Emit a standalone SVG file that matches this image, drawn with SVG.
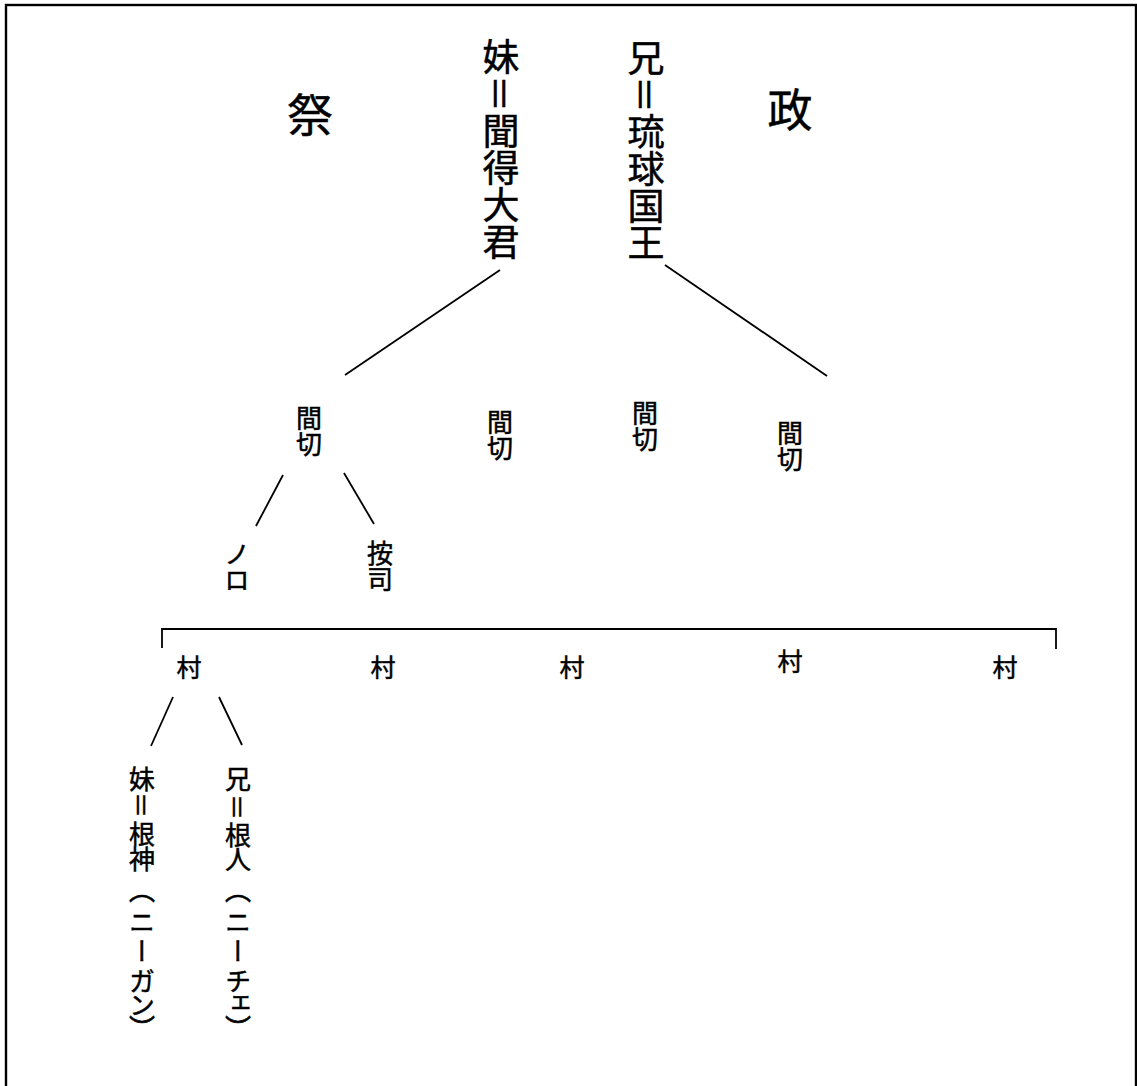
<svg xmlns="http://www.w3.org/2000/svg" width="1137" height="1086" viewBox="0 0 1137 1086">
<style>
text{font-family:"Noto Sans CJK JP","Noto Sans CJK SC",sans-serif;fill:#000;stroke:#000;stroke-width:0.5}
.v{writing-mode:vertical-rl}
.big{font-size:37px}
.head{font-size:45px;text-anchor:middle}
.s{font-size:26px}
.low{font-size:26px}
.h{font-size:25px;text-anchor:middle}
line,polyline{stroke:#000;stroke-width:1.8;fill:none}
</style>
<rect x="6" y="5" width="1130" height="1200" fill="#fff" stroke="#000" stroke-width="2.4"/>
<g id="matsuri"><text class="head" x="310" y="132">祭</text></g>
<g id="sei"><text class="head" x="790" y="127">政</text></g>
<g id="kikoe"><text class="v big" x="501" y="38">妹＝聞得大君</text></g>
<g id="king"><text class="v big" x="646" y="39">兄＝琉球国王</text></g>
<g id="magiri1"><text class="v s" x="309" y="405">間切</text></g>
<g id="magiri2"><text class="v s" x="500" y="409">間切</text></g>
<g id="magiri3"><text class="v s" x="645" y="400">間切</text></g>
<g id="magiri4"><text class="v s" x="790" y="420">間切</text></g>
<g id="noro"><text class="v s" x="237" y="541">ノロ</text></g>
<g id="aji"><text class="v s" x="380" y="540">按司</text></g>
<g id="mura1"><text class="h" x="189" y="677">村</text></g>
<g id="mura2"><text class="h" x="383" y="677">村</text></g>
<g id="mura3"><text class="h" x="572" y="677">村</text></g>
<g id="mura4"><text class="h" x="790" y="671">村</text></g>
<g id="mura5"><text class="h" x="1005" y="677">村</text></g>
<g id="niigan"><text class="v low" x="142" y="766 792 821 846 877 909 938 968 992 1015">妹＝根神（ニーガン）</text></g>
<g id="niiche"><text class="v low" x="238" y="766 794 822 846 877 909 938 968 990 1015">兄＝根人（ニーチェ）</text></g>
<g id="connectors">
<line x1="500" y1="270" x2="345" y2="375"/>
<line x1="665" y1="265" x2="827" y2="376"/>
<line x1="283" y1="475" x2="256" y2="526"/>
<line x1="344" y1="473" x2="374" y2="524"/>
<polyline points="162,648 162,629 1056,629 1056,649"/>
<line x1="173" y1="697" x2="151" y2="746"/>
<line x1="219" y1="697" x2="242" y2="745"/>
</g>
</svg>
